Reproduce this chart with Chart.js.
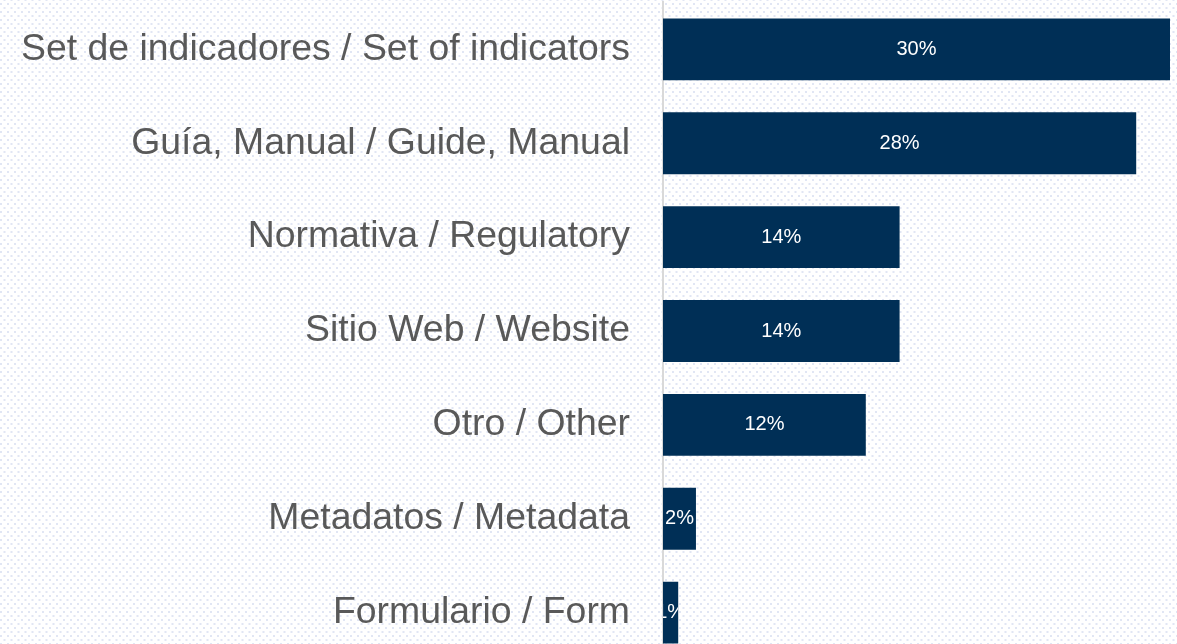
<!DOCTYPE html>
<html>
<head>
<meta charset="utf-8">
<script src="https://cdn.jsdelivr.net/npm/chart.js@4"></script>
<style>
  html, body { margin: 0; padding: 0; overflow: hidden; background: #fff; height: 644px; }
  #wrap { width: 1177px; height: 768px; margin-top: -53px; }
</style>
</head>
<body>
<div id="wrap"><canvas id="canvas"></canvas></div>
<script>
// categories and shares (%)
let categories = [
  'Set de indicadores / Set of indicators',
  'Guía, Manual / Guide, Manual',
  'Normativa / Regulatory',
  'Sitio Web / Website',
  'Otro / Other',
  'Metadatos / Metadata',
  'Formulario / Form'
];
let shares = [30, 28, 14, 14, 12, 1.95, 0.9];
let shareLabels = ['30%', '28%', '14%', '14%', '12%', '2%', '1%'];

// dotted paper background
let dots = {
  id: 'dots',
  beforeDraw(chart) {
    let c = chart.ctx;
    let tile = document.createElement('canvas');
    tile.width = 7; tile.height = 8;
    let t = tile.getContext('2d');
    t.fillStyle = '#e1e6f4';
    t.fillRect(0, 0, 2, 2);
    t.fillRect(3.5, 4, 2, 2);
    c.save();
    c.fillStyle = c.createPattern(tile, 'repeat');
    c.fillRect(0, 0, chart.width, chart.height);
    c.restore();
  }
};

// value labels inside bars, clipped to the bar
let barLabels = {
  id: 'barLabels',
  afterDatasetsDraw(chart) {
    let c = chart.ctx;
    chart.getDatasetMeta(0).data.forEach(function(bar, i) {
      let left = bar.base, right = bar.x;
      let top = bar.y - bar.height / 2;
      c.save();
      c.beginPath();
      c.rect(left, top, right - left, bar.height);
      c.clip();
      c.fillStyle = '#ffffff';
      c.font = '20px "Liberation Sans", Arial, sans-serif';
      c.textAlign = 'center';
      c.textBaseline = 'middle';
      c.fillText(shareLabels[i], (left + right) / 2, bar.y);
      c.restore();
    });
  }
};

new Chart(document.getElementById('canvas'), {
  type: 'bar',
  data: {
    labels: categories,
    datasets: [{
      data: shares,
      backgroundColor: '#002f56',
      barPercentage: 0.66,
      categoryPercentage: 1
    }]
  },
  options: {
    indexAxis: 'y',
    responsive: true,
    maintainAspectRatio: false,
    animation: false,
    layout: { padding: { top: 0, right: 7, bottom: 0, left: 0 } },
    plugins: { legend: { display: false }, tooltip: { enabled: false } },
    scales: {
      x: { display: false, min: 0, max: 30 },
      y: {
        afterFit: function(s) { s.width = 663; },
        grid: { display: false, drawTicks: false },
        border: { display: true, color: '#d9d9d9', width: 2 },
        ticks: {
          padding: 33,
          color: '#595959',
          font: { family: '"Liberation Sans", Arial, sans-serif', size: 37.4 }
        }
      }
    }
  },
  plugins: [dots, barLabels]
});
</script>
</body>
</html>
